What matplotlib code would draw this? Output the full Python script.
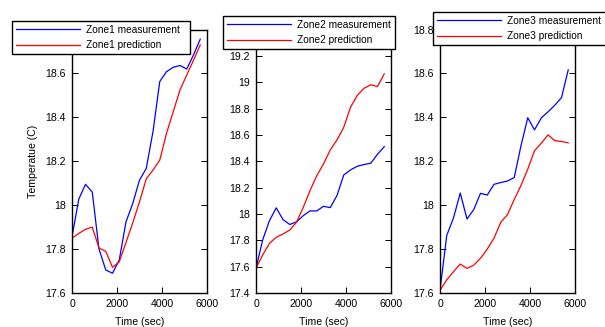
import matplotlib
matplotlib.use("Agg")
import matplotlib.pyplot as plt

plt.rcParams['font.family'] = ['Liberation Sans', 'DejaVu Sans']

time_sec = [0, 300, 600, 900, 1200, 1500, 1800, 2100, 2400, 2700,
            3000, 3300, 3600, 3900, 4200, 4500, 4800, 5100, 5400, 5700]

zone1_meas = [17.856, 18.027, 18.095, 18.06, 17.80, 17.705, 17.69, 17.75, 17.924, 18.008,
              18.114, 18.167, 18.335, 18.563, 18.608, 18.628, 18.636, 18.62, 18.684, 18.756]
zone1_pred = [17.85, 17.871, 17.89, 17.90, 17.805, 17.79, 17.717, 17.742, 17.83, 17.92,
              18.015, 18.12, 18.16, 18.205, 18.327, 18.426, 18.525, 18.593, 18.66, 18.73]

zone2_meas = [17.587, 17.805, 17.95, 18.046, 17.957, 17.92, 17.94, 17.987, 18.023, 18.023,
              18.058, 18.048, 18.14, 18.296, 18.334, 18.362, 18.375, 18.385, 18.453, 18.511]
zone2_pred = [17.587, 17.69, 17.777, 17.823, 17.848, 17.878, 17.937, 18.05, 18.177, 18.29,
              18.38, 18.486, 18.562, 18.658, 18.81, 18.899, 18.954, 18.98, 18.967, 19.063]

zone3_meas = [17.612, 17.862, 17.942, 18.055, 17.937, 17.98, 18.054, 18.046, 18.095, 18.103,
              18.11, 18.126, 18.271, 18.398, 18.343, 18.397, 18.425, 18.455, 18.49, 18.616]
zone3_pred = [17.612, 17.66, 17.697, 17.732, 17.712, 17.727, 17.758, 17.80, 17.85, 17.922,
              17.957, 18.026, 18.09, 18.164, 18.248, 18.282, 18.32, 18.294, 18.29, 18.284]

zone_names = ["Zone1", "Zone2", "Zone3"]
x_ticks = [0, 2000, 4000, 6000]
x_ticklabels = ["0", "2000", "4000", "6000"]
y_ticks_1 = [17.6, 17.8, 18.0, 18.2, 18.4, 18.6, 18.8]
y_ticklabels_1 = ["17.6", "17.8", "18", "18.2", "18.4", "18.6", "18.8"]
y_ticks_2 = [17.4, 17.6, 17.8, 18.0, 18.2, 18.4, 18.6, 18.8, 19.0, 19.2, 19.4]
y_ticklabels_2 = ["17.4", "17.6", "17.8", "18", "18.2", "18.4", "18.6", "18.8", "19", "19.2", "19.4"]
y_ticks_3 = y_ticks_1
y_ticklabels_3 = y_ticklabels_1

W, H = 605, 327
fig = plt.figure(figsize=(W / 100, H / 100), dpi=100)

axes_px = [(72, 207), (256, 391), (440, 575)]
top_px, bot_px = 29.5, 293
legend_px = [(12, 21, 190, 57), (223, 16, 395, 52), (433, 12, 611, 48)]

meas = [zone1_meas, zone2_meas, zone3_meas]
pred = [zone1_pred, zone2_pred, zone3_pred]
yticks = [y_ticks_1, y_ticks_2, y_ticks_3]
yticklabels = [y_ticklabels_1, y_ticklabels_2, y_ticklabels_3]
ylims = [(17.6, 18.8), (17.4, 19.4), (17.6, 18.8)]

FS = 7.6
LFS = 7.3
for i in range(3):
    l, r = axes_px[i]
    ax = fig.add_axes([l / W, (H - bot_px) / H, (r - l) / W, (bot_px - top_px) / H])
    ax.plot(time_sec, meas[i], color=(0, 0, 1), lw=0.9, label=f"{zone_names[i]} measurement")
    ax.plot(time_sec, pred[i], color=(1, 0, 0), lw=0.9, label=f"{zone_names[i]} prediction")
    ax.set_xlim(0, 6000)
    ax.set_ylim(*ylims[i])
    ax.set_xticks(x_ticks)
    ax.set_xticklabels(x_ticklabels)
    ax.set_yticks(yticks[i])
    ax.set_yticklabels(yticklabels[i])
    ax.tick_params(direction='in', length=4, width=0.7, labelsize=FS,
                   top=True, right=True, pad=4.5)
    ax.tick_params(axis='x', pad=4)
    for s in ax.spines.values():
        s.set_linewidth(1.0)
    ax.set_xlabel("Time (sec)", fontsize=FS)
    ax.xaxis.set_label_coords(0.5, -0.092)
    if i == 0:
        ax.set_ylabel("Temperatue (C)", fontsize=FS)
        ax.yaxis.set_label_coords(-0.25, 0.5)
    lx0, ly0, lx1, ly1 = legend_px[i]
    leg = ax.legend(loc='upper left',
                    bbox_to_anchor=(lx0 / W, 1 - ly1 / H, (lx1 - lx0) / W, (ly1 - ly0) / H),
                    bbox_transform=fig.transFigure, mode='expand', borderaxespad=0,
                    fontsize=LFS, frameon=True, fancybox=False, framealpha=1,
                    edgecolor='black', borderpad=0.38, labelspacing=0.55,
                    handlelength=6.3, handletextpad=0.6)
    leg.get_frame().set_linewidth(1.0)

fig.savefig("out.png", dpi=100)
